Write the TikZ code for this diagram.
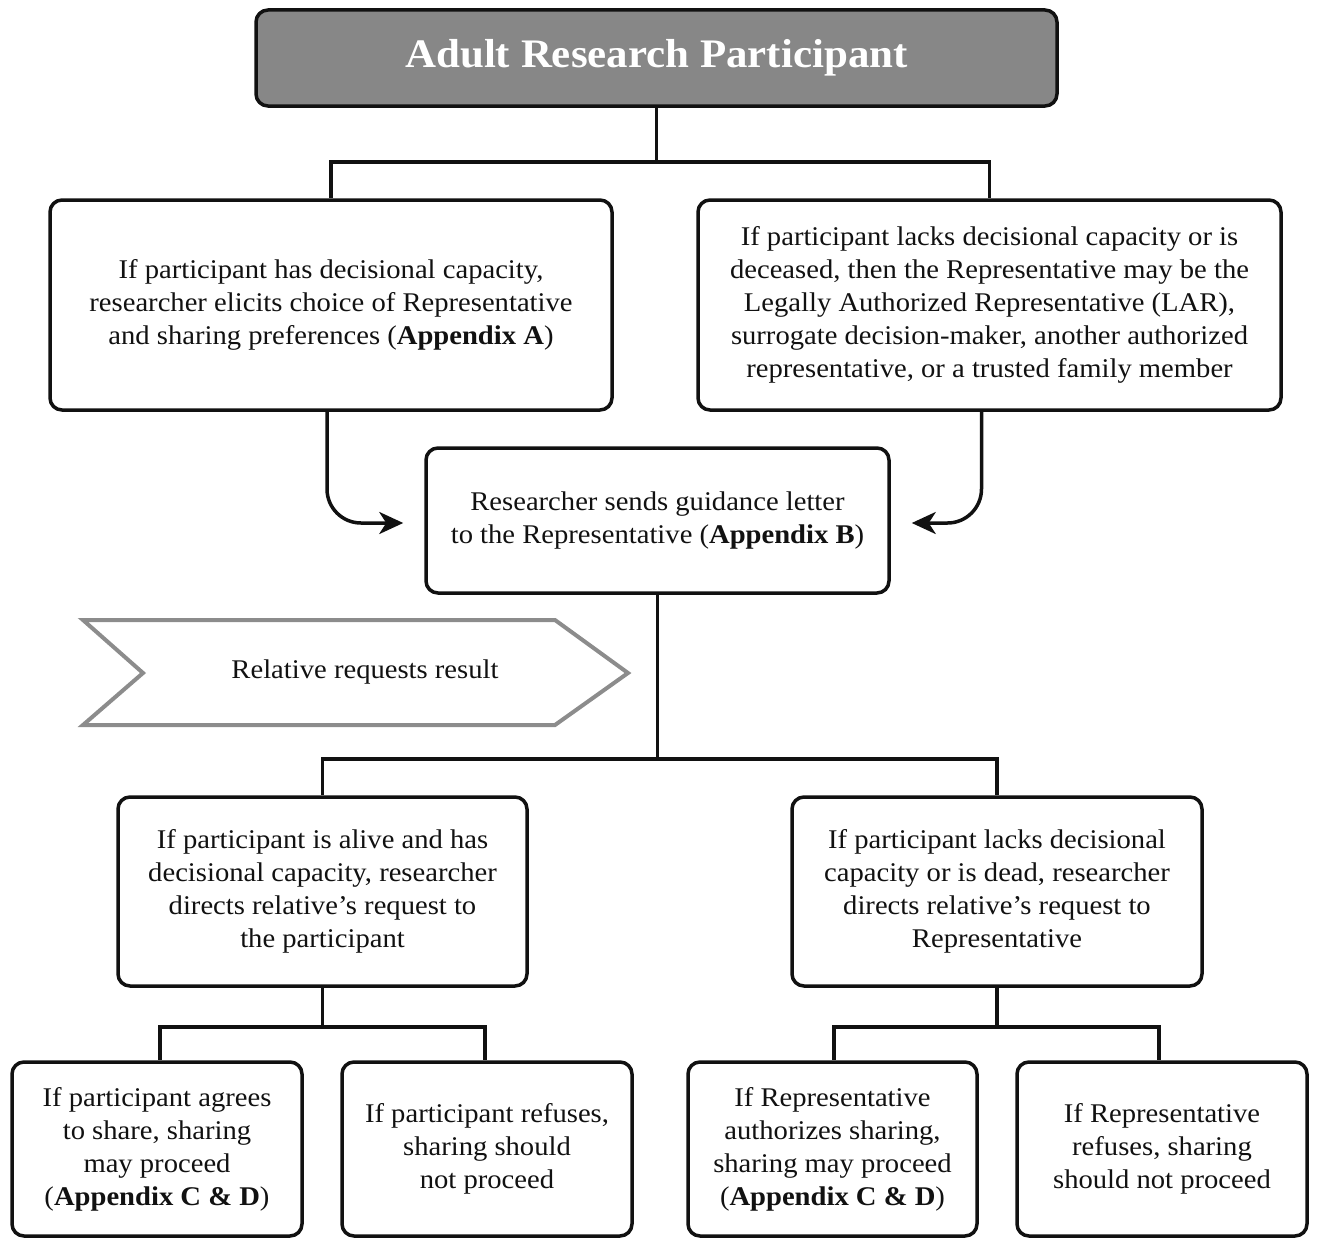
\documentclass[tikz,border=0pt]{standalone}
\usepackage{fontspec}
\setmainfont[FakeStretch=1.06]{Liberation Serif}
\usetikzlibrary{arrows.meta,calc}
\definecolor{boxgray}{HTML}{878787}
\definecolor{chevgray}{HTML}{8C8C8C}
\definecolor{ink}{HTML}{111111}
\begin{document}
\begin{tikzpicture}[x=1pt,y=-1pt,
  box/.style={draw=ink, line width=3.5pt, rounded corners=12pt, align=center,
    font=\fontsize{27}{33}\selectfont, text=ink, inner sep=0pt, fill=white},
  conn/.style={draw=ink, line width=3.5pt},
  arr/.style={conn, rounded corners=34pt, -{Stealth[length=24pt,width=22pt,inset=7pt]}}
]
\useasboundingbox (0,0) rectangle (1318,1239);

\node[box, fill=boxgray, minimum width=801pt, minimum height=96pt,
  font=\fontsize{40.5}{44}\selectfont\bfseries, text=white] (T) at (656.5,58) {Adult Research Participant};

\node[box, minimum width=562pt, minimum height=210pt] (A) at (331,305)
  {If participant has decisional capacity,\\researcher elicits choice of Representative\\and sharing preferences (\textbf{Appendix A})};
\node[box, minimum width=583pt, minimum height=210pt] (B) at (989.5,305)
  {If participant lacks decisional capacity or is\\deceased, then the Representative may be the\\Legally Authorized Representative (LAR),\\surrogate decision-maker, another authorized\\representative, or a trusted family member};

\node[box, minimum width=463pt, minimum height=145pt] (M) at (657.5,520.5)
  {Researcher sends guidance letter\\to the Representative (\textbf{Appendix B})};

% chevron
\draw[chevgray, line width=4pt] (83,620) -- (555,620) -- (628,673) -- (555,725) -- (83,725) -- (143,673) -- cycle;
\node[font=\fontsize{27}{33}\selectfont, text=ink] (rel) at (365,672) {Relative requests result};

\node[box, minimum width=409pt, minimum height=189pt] (L2) at (322.5,891.5)
  {If participant is alive and has\\decisional capacity, researcher\\directs relative’s request to\\the participant};
\node[box, minimum width=410pt, minimum height=189pt] (R2) at (997,891.5)
  {If participant lacks decisional\\capacity or is dead, researcher\\directs relative’s request to\\Representative};

\node[box, minimum width=290pt, minimum height=174pt] (BL1) at (157,1149)
  {If participant agrees\\to share, sharing\\may proceed\\(\textbf{Appendix C \& D})};
\node[box, minimum width=290pt, minimum height=174pt] (BL2) at (487,1149)
  {If participant refuses,\\sharing should\\not proceed};
\node[box, minimum width=289pt, minimum height=174pt] (BR1) at (832.5,1149)
  {If Representative\\authorizes sharing,\\sharing may proceed\\(\textbf{Appendix C \& D})};
\node[box, minimum width=290pt, minimum height=174pt] (BR2) at (1162,1149)
  {If Representative\\refuses, sharing\\should not proceed};

% connectors
\draw[conn] (T.south) -- ++(0,54) coordinate (t1) -| (A.north);
\draw[conn] (t1) -| (B.north);
\draw[arr] ([xshift=-4pt]A.south) |- ([xshift=-21pt,yshift=-2.5pt]M.west);
\draw[arr] ([xshift=-8pt]B.south) |- ([xshift=21pt,yshift=-2.5pt]M.east);
\draw[conn] (M.south) -- ++(0,164) coordinate (m1) -| (L2.north);
\draw[conn] (m1) -| (R2.north);
\draw[conn] (L2.south) -- ++(0,39) coordinate (l1) -| ([xshift=3pt]BL1.north);
\draw[conn] (l1) -| ([xshift=-2pt]BL2.north);
\draw[conn] (R2.south) -- ++(0,39) coordinate (r1) -| ([xshift=1.5pt]BR1.north);
\draw[conn] (r1) -| ([xshift=-3pt]BR2.north);
\end{tikzpicture}
\end{document}
